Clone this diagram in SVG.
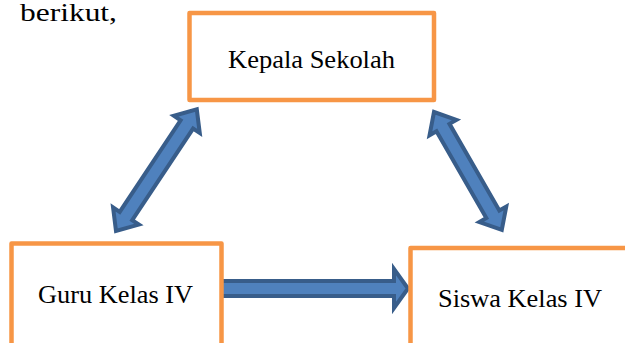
<svg xmlns="http://www.w3.org/2000/svg" width="625" height="343" viewBox="0 0 625 343">
  <style>
    .box { fill: #ffffff; stroke: #F79646; stroke-width: 4.5; stroke-linejoin: round; }
    text { font-family: 'Times New Roman', 'Liberation Serif', 'Noto Serif', 'DejaVu Serif', serif; font-size: 25px; fill: #000000; }
    .arrow { fill: #4F81BD; stroke: #385D8A; stroke-width: 4; stroke-linejoin: miter; }
  </style>
  <rect width="625" height="343" fill="#ffffff"/>
  <text x="20" y="21" textLength="97" lengthAdjust="spacingAndGlyphs">berikut,</text>
  <g id="connectors">
    <path class="arrow" transform="translate(116,231) rotate(-56.4)" d="M0,0 L18,-15.5 L18,-7.5 L128,-7.5 L128,-15.5 L146,0 L128,15.5 L128,7.5 L18,7.5 L18,15.5 Z"/>
    <path class="arrow" transform="translate(434,112) rotate(60.1)" d="M0,0 L18,-15.5 L18,-7.5 L118,-7.5 L118,-15.5 L136,0 L118,15.5 L118,7.5 L18,7.5 L18,15.5 Z"/>
    <path class="arrow" d="M220,281 L394,281 L394,269 L408,288.5 L394,308 L394,296 L220,296 Z"/>
  </g>
  <g id="kepala-sekolah">
    <rect class="box" x="189.5" y="13" width="244.5" height="87"/>
    <text x="228" y="68" textLength="167" lengthAdjust="spacingAndGlyphs">Kepala Sekolah</text>
  </g>
  <g id="guru-kelas-iv">
    <rect class="box" x="11.5" y="243.5" width="210" height="130"/>
    <text x="38" y="303" textLength="155" lengthAdjust="spacingAndGlyphs">Guru Kelas IV</text>
  </g>
  <g id="siswa-kelas-iv">
    <rect class="box" x="410.5" y="248" width="240" height="130"/>
    <text x="438" y="307" textLength="164" lengthAdjust="spacingAndGlyphs">Siswa Kelas IV</text>
  </g>
</svg>
